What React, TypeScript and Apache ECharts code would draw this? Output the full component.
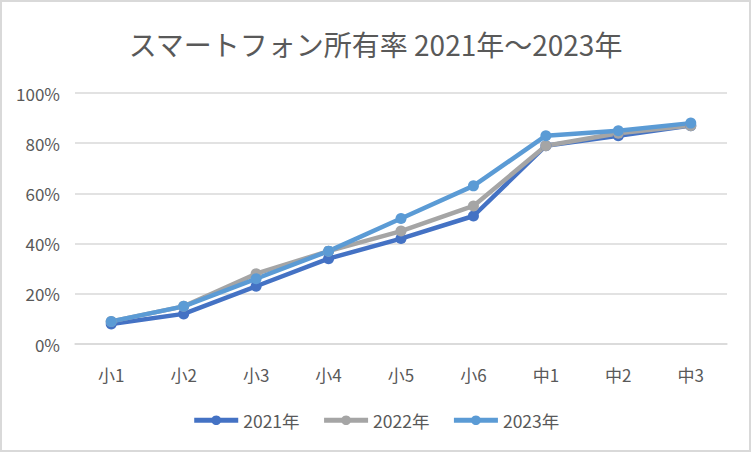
import React, { useEffect, useRef } from "react";
import * as echarts from "echarts";

const categories = ["小1", "小2", "小3", "小4", "小5", "小6", "中1", "中2", "中3"];
const s2021 = [8, 12, 23, 34, 42, 51, 79, 83, 87];
const s2022 = [9, 15, 28, 37, 45, 55, 79, 84, 87];
const s2023 = [9, 15, 26, 37, 50, 63, 83, 85, 88];
const seriesNames = ["2021年", "2022年", "2023年"];
const colors = ["#4472C4", "#A5A5A5", "#5B9BD5"];
const FONT = "'Noto Sans CJK JP', 'Noto Sans', sans-serif";

export default function App() {
  const ref = useRef<HTMLDivElement>(null);
  useEffect(() => {
    document.body.style.margin = "0";
    const chart = echarts.init(ref.current!, undefined, { renderer: "svg" });
    const data = [s2021, s2022, s2023];
    chart.setOption({
      animation: false,
      backgroundColor: "#ffffff",
      textStyle: { fontFamily: FONT },
      title: {
        text: "スマートフォン所有率 2021年～2023年",
        left: "center",
        top: 23,
        textStyle: { fontSize: 28, fontWeight: "normal", color: "#595959", fontFamily: FONT },
      },
      legend: {
        bottom: 16,
        left: "center",
        itemWidth: 44,
        itemHeight: 12,
        itemGap: 22,
        textStyle: { fontSize: 17.5, color: "#595959", fontFamily: FONT },
        lineStyle: { width: 5 },
        data: seriesNames,
      },
      grid: { left: 73, right: 22, top: 91, bottom: 106, containLabel: false },
      xAxis: {
        type: "category",
        data: categories,
        boundaryGap: true,
        axisLine: { show: true, lineStyle: { color: "#D9D9D9", width: 1.5 } },
        axisTick: { show: false },
        axisLabel: { color: "#595959", fontSize: 17, margin: 22, fontFamily: FONT },
      },
      yAxis: {
        type: "value",
        min: 0,
        max: 100,
        interval: 20,
        axisLine: { show: false },
        axisTick: { show: false },
        axisLabel: { color: "#595959", fontSize: 17, margin: 15, formatter: "{value}%", fontFamily: FONT },
        splitLine: { lineStyle: { color: "#D9D9D9", width: 1.5 } },
      },
      series: seriesNames.map((name, i) => ({
        name,
        type: "line",
        data: data[i],
        symbol: "circle",
        symbolSize: 11,
        color: colors[i],
        lineStyle: { width: 4.5, color: colors[i] },
        itemStyle: { color: colors[i] },
      })),
    });
    return () => chart.dispose();
  }, []);
  return (
    <div
      ref={ref}
      style={{ width: 751, height: 452, boxSizing: "border-box", border: "2px solid #D9D9D9" }}
    />
  );
}
